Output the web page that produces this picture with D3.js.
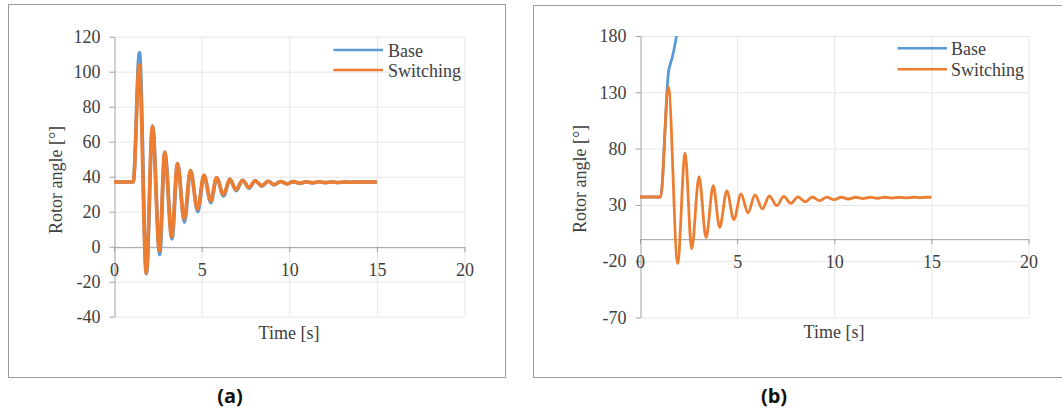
<!DOCTYPE html>
<html>
<head>
<meta charset="utf-8">
<script src="https://cdn.jsdelivr.net/npm/d3@7"></script>
<style>
  body { margin: 0; background: #fff; }
  svg { display: block; }
  .tick text { font-family: "Liberation Serif", "Times New Roman", serif; font-size: 18px; fill: #404040; }
</style>
</head>
<body>
<svg id="chart" width="1062" height="412"></svg>
<script>
// time [s], rotor angle [deg] (peaks / troughs)
const baseA = [
  [0, 37], [1.1, 37], [1.45, 111], [1.85, -15.5], [2.2, 69], [2.61, -4.5], [2.9, 54],
  [3.31, 4.5], [3.63, 47.5], [4.02, 14], [4.37, 43.5], [4.78, 20], [5.14, 40.8],
  [5.53, 25.2], [5.86, 39.4], [6.25, 29], [6.62, 38.5], [6.97, 32], [7.34, 38],
  [7.71, 33.4], [8.06, 37.7], [8.44, 34.6], [8.8, 37.4], [9.15, 35.3], [9.51, 37.3],
  [9.89, 35.8], [10.24, 37.2], [10.61, 36.2], [10.97, 37.1], [11.34, 36.4], [11.7, 37.1],
  [12.07, 36.6], [12.43, 37], [12.8, 36.7], [13.16, 37], [13.53, 36.8], [13.9, 37],
  [14.26, 36.9], [14.63, 37], [15, 37]
];
const switchingA = [
  [0, 37], [1.1, 37], [1.44, 104], [1.84, -15], [2.19, 69], [2.59, -2.5], [2.89, 54],
  [3.29, 5.8], [3.62, 47.5], [4.0, 15.8], [4.36, 43.5], [4.76, 21.5], [5.13, 40.8],
  [5.52, 26.2], [5.85, 39.4], [6.24, 29.8], [6.61, 38.5], [6.96, 32.6], [7.33, 38],
  [7.7, 33.8], [8.05, 37.7], [8.43, 34.9], [8.79, 37.4], [9.14, 35.5], [9.5, 37.3],
  [9.88, 35.9], [10.23, 37.2], [10.6, 36.3], [10.96, 37.1], [11.33, 36.5], [11.69, 37.1],
  [12.06, 36.6], [12.42, 37], [12.79, 36.7], [13.15, 37], [13.52, 36.8], [13.89, 37],
  [14.25, 36.9], [14.62, 37], [15, 37]
];
const baseB = [
  [0, 37], [1.06, 37], [1.3, 100], [1.38, 128], [1.46, 147], [1.56, 155], [1.66, 161],
  [1.76, 169], [1.85, 177], [1.92, 186], [1.98, 196]
];
const switchingB = [
  [0, 37], [1.06, 37], [1.46, 135], [1.94, -22], [2.32, 76], [2.66, -9], [3.04, 55],
  [3.4, 1], [3.77, 47], [4.1, 10], [4.47, 42.5], [4.83, 17], [5.2, 39.7], [5.56, 23],
  [5.92, 38.8], [6.3, 26.5], [6.66, 37.9], [7.04, 29.3], [7.4, 37.5], [7.76, 31.4],
  [8.13, 37.2], [8.5, 32.8], [8.87, 37], [9.25, 33.8], [9.62, 36.9], [9.99, 34.6],
  [10.36, 36.8], [10.73, 35.2], [11.1, 36.8], [11.48, 35.6], [11.85, 36.8], [12.22, 35.9],
  [12.6, 36.8], [12.97, 36.1], [13.34, 36.8], [13.71, 36.3], [14.08, 36.8], [14.45, 36.5],
  [14.8, 36.8], [15, 36.8]
];

const xTicks = [0, 5, 10, 15, 20];
const yTicksA = [-40, -20, 0, 20, 40, 60, 80, 100, 120];
const yTicksB = [-70, -20, 30, 80, 130, 180];
const seriesNames = ["Base", "Switching"];
const colors = { Base: "#5b9bd5", Switching: "#ed7d31" };

const svg = d3.select("#chart");
const serif = "'Liberation Serif', 'Times New Roman', serif";

function drawPanel(opt) {
  const g = svg.append("g");

  // outer frame
  g.append("rect")
    .attr("x", opt.frame[0] + 0.5).attr("y", opt.frame[1] + 0.5)
    .attr("width", opt.frame[2] - opt.frame[0]).attr("height", opt.frame[3] - opt.frame[1])
    .attr("fill", "none").attr("stroke", "#9a9a9a");

  const x = d3.scaleLinear().domain([0, 20]).range(opt.xRange);
  const y = d3.scaleLinear().domain(opt.yDomain).range(opt.yRange);

  // gridlines
  g.append("g").selectAll("line.h").data(opt.yTicks).join("line")
    .attr("x1", x(0)).attr("x2", x(20))
    .attr("y1", d => y(d) + 0.5).attr("y2", d => y(d) + 0.5)
    .attr("stroke", "#e6e6e6");
  g.append("g").selectAll("line.v").data(xTicks.slice(1)).join("line")
    .attr("x1", d => x(d) + 0.5).attr("x2", d => x(d) + 0.5)
    .attr("y1", y(opt.yDomain[0])).attr("y2", y(opt.yDomain[1]))
    .attr("stroke", "#e6e6e6");

  // y axis (plain hyphen for negatives, like the original)
  const ya = g.append("g")
    .attr("transform", `translate(${x(0) + 0.5},0)`)
    .call(d3.axisLeft(y).tickValues(opt.yTicks).tickFormat(d => String(d))
      .tickSize(5).tickPadding(9).tickSizeOuter(0));
  ya.select(".domain").attr("stroke", "#a0a0a0");
  ya.selectAll(".tick line").attr("stroke", "#a0a0a0");

  // x axis on the zero line
  const xa = g.append("g")
    .attr("transform", `translate(0,${y(0) + 0.5})`)
    .call(d3.axisBottom(x).tickValues(xTicks).tickFormat(d => String(d))
      .tickSize(5).tickSizeOuter(0));
  xa.select(".domain").attr("stroke", "#a0a0a0");
  xa.selectAll(".tick line").attr("stroke", "#a0a0a0");
  xa.selectAll(".tick text").attr("y", 28.5).attr("dy", 0);

  // series
  const clipId = "clip" + opt.id;
  svg.append("clipPath").attr("id", clipId).append("rect")
    .attr("x", x(0)).attr("y", y(opt.yDomain[1]))
    .attr("width", x(20) - x(0)).attr("height", y(opt.yDomain[0]) - y(opt.yDomain[1]));

  const line = d3.line().x(d => x(d[0])).y(d => y(d[1])).curve(d3.curveMonotoneX);
  opt.series.forEach((s, i) => {
    g.append("path").datum(s)
      .attr("clip-path", `url(#${clipId})`)
      .attr("fill", "none")
      .attr("stroke", colors[seriesNames[i]])
      .attr("stroke-width", opt.lineWidth)
      .attr("stroke-linejoin", "round")
      .attr("d", line);
  });

  // legend
  seriesNames.forEach((name, i) => {
    const ly = opt.legend[1] + i * opt.legend[3];
    g.append("line")
      .attr("x1", opt.legend[0]).attr("x2", opt.legend[0] + 49.5)
      .attr("y1", ly).attr("y2", ly)
      .attr("stroke", colors[name]).attr("stroke-width", 2.6);
    g.append("text")
      .attr("x", opt.legend[2]).attr("y", ly + 6.5)
      .attr("font-family", serif).attr("font-size", 18).attr("fill", "#404040")
      .text(name);
  });

  // axis titles
  g.append("text")
    .attr("transform", `translate(${opt.yTitle[0]},${opt.yTitle[1]}) rotate(-90)`)
    .attr("text-anchor", "middle").attr("dy", "0.35em")
    .attr("font-family", serif).attr("font-size", 18).attr("fill", "#404040")
    .text("Rotor angle [°]");
  g.append("text")
    .attr("x", opt.xTitle[0]).attr("y", opt.xTitle[1])
    .attr("text-anchor", "middle")
    .attr("font-family", serif).attr("font-size", 18).attr("fill", "#404040")
    .text("Time [s]");

  // caption
  g.append("text")
    .attr("x", opt.caption[0]).attr("y", opt.caption[1])
    .attr("text-anchor", "middle")
    .attr("font-family", "'Open Sans', 'Noto Sans', sans-serif")
    .attr("font-weight", "bold").attr("font-size", 20).attr("fill", "#111")
    .text(opt.label);
}

drawPanel({
  id: "a", label: "(a)",
  frame: [8, 4, 505, 377],
  xRange: [114, 464.5], yDomain: [-40, 120], yRange: [316.7, 36.7],
  yTicks: yTicksA, series: [baseA, switchingA], lineWidth: 3.6,
  legend: [333.5, 50, 388, 20],
  yTitle: [56, 180], xTitle: [289, 339], caption: [230, 403]
});

drawPanel({
  id: "b", label: "(b)",
  frame: [533, 5, 1070, 377],
  xRange: [640, 1028.5], yDomain: [-70, 180], yRange: [317.5, 36],
  yTicks: yTicksB, series: [baseB, switchingB], lineWidth: 2.8,
  legend: [897.5, 48.3, 951, 21],
  yTitle: [580, 179], xTitle: [834, 338], caption: [774, 403]
});
</script>
</body>
</html>
